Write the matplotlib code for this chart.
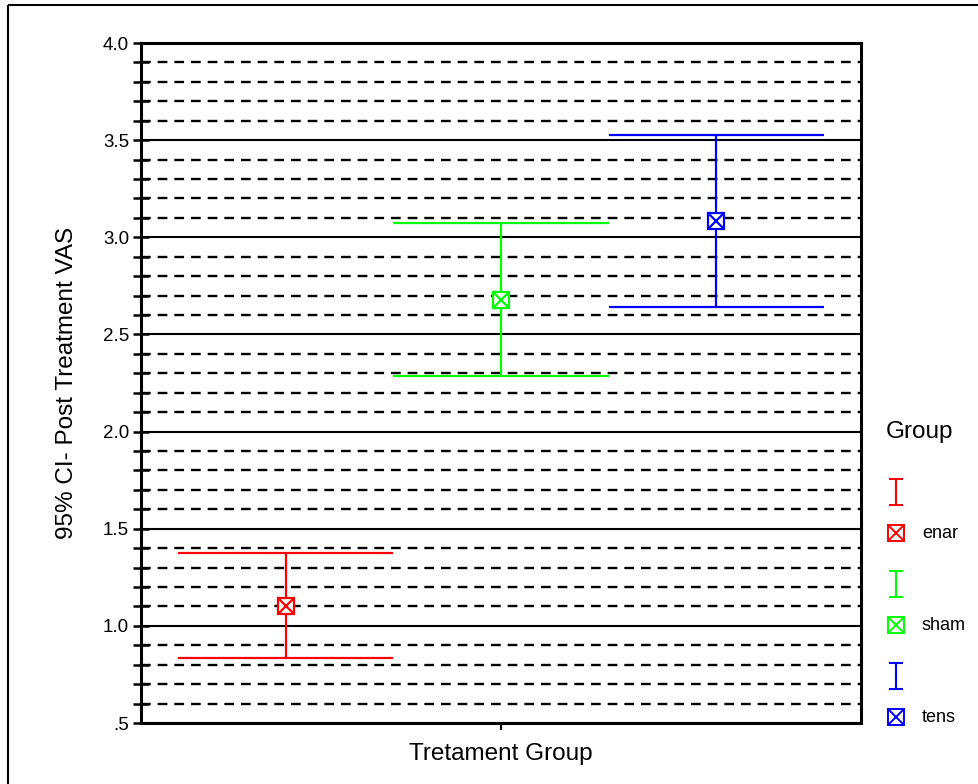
import matplotlib.pyplot as plt
from matplotlib.ticker import MultipleLocator, FixedLocator
from matplotlib.patches import Rectangle

plt.rcParams['font.family'] = ['Liberation Sans', 'DejaVu Sans']
plt.rcParams['lines.scale_dashes'] = False

# datos
groups = ['enar', 'sham', 'tens']
colors = ['#ff0000', '#00ff00', '#0000ff']
means = [1.10, 2.675, 3.085]
lower = [0.832, 2.286, 2.643]
upper = [1.375, 3.075, 3.528]
y_major = [0.5, 1.0, 1.5, 2.0, 2.5, 3.0, 3.5, 4.0]
y_labels = ['.5', '1.0', '1.5', '2.0', '2.5', '3.0', '3.5', '4.0']

W, H = 979, 784
fig = plt.figure(figsize=(W / 100, H / 100), dpi=100)
ax = fig.add_axes([141 / W, (H - 723) / H, 720 / W, 680 / H])

xs = [1, 2, 3]
for x, m, lo, hi, c in zip(xs, means, lower, upper, colors):
    ax.vlines(x, lo, hi, color=c, lw=1.6, zorder=3)
    ax.hlines([lo, hi], x - 0.5, x + 0.5, color=c, lw=1.6, zorder=3)
    ax.plot(x, m, marker='s', ms=11.5, mfc='white', mec=c, mew=1.6, zorder=4)
    ax.plot(x, m, marker='x', ms=10.5, mec=c, mew=1.6, zorder=5)

ax.set_xlim(0.326, 3.674)
ax.set_ylim(0.5, 4.0)
ax.set_xticks([2])
ax.set_xticklabels([''])
ax.tick_params(axis='x', length=5, width=1.5, direction='out')
ax.yaxis.set_major_locator(FixedLocator(y_major))
ax.set_yticklabels(y_labels)
ax.yaxis.set_minor_locator(MultipleLocator(0.1))
ax.tick_params(axis='y', which='both', direction='inout', length=11,
               width=1.8, labelsize=13.5, pad=3)
ax.grid(True, axis='y', which='major', color='black', lw=1.5, ls='-')
ax.grid(True, axis='y', which='minor', color='black', lw=1.7,
        ls=(0, (7, 5)))
ax.set_axisbelow(True)
for s in ax.spines.values():
    s.set_linewidth(2.2)

ax.set_xlabel('Tretament Group', fontsize=17.5, labelpad=6)
ax.set_ylabel('95% CI- Post Treatment VAS', fontsize=17.5, labelpad=18)

# leyenda dibujada en coordenadas de pixel
ov = fig.add_axes([0, 0, 1, 1], zorder=-1)
ov.set_xlim(0, W)
ov.set_ylim(H, 0)
ov.axis('off')
ov.add_patch(Rectangle((8, 4.5), 1000, 1000, fill=False, ec='black', lw=1.5))

lg = fig.add_axes([0, 0, 1, 1])
lg.set_xlim(0, W)
lg.set_ylim(H, 0)
lg.axis('off')
lg.patch.set_alpha(0)
lg.text(886, 432, 'Group', fontsize=17.5, va='center', ha='left')
for i, (g, c) in enumerate(zip(groups, colors)):
    yb = 492 + i * 92
    yk = 533 + i * 92
    lg.vlines(896, yb - 13, yb + 13, color=c, lw=1.5)
    lg.hlines([yb - 13, yb + 13], 889, 903, color=c, lw=1.5)
    lg.plot(896, yk, marker='s', ms=11.5, mfc='white', mec=c, mew=1.4)
    lg.plot(896, yk, marker='x', ms=10.5, mec=c, mew=1.4)
    lg.text(922, yk, g, fontsize=13, va='center', ha='left')

fig.savefig('out.png', dpi=100)
